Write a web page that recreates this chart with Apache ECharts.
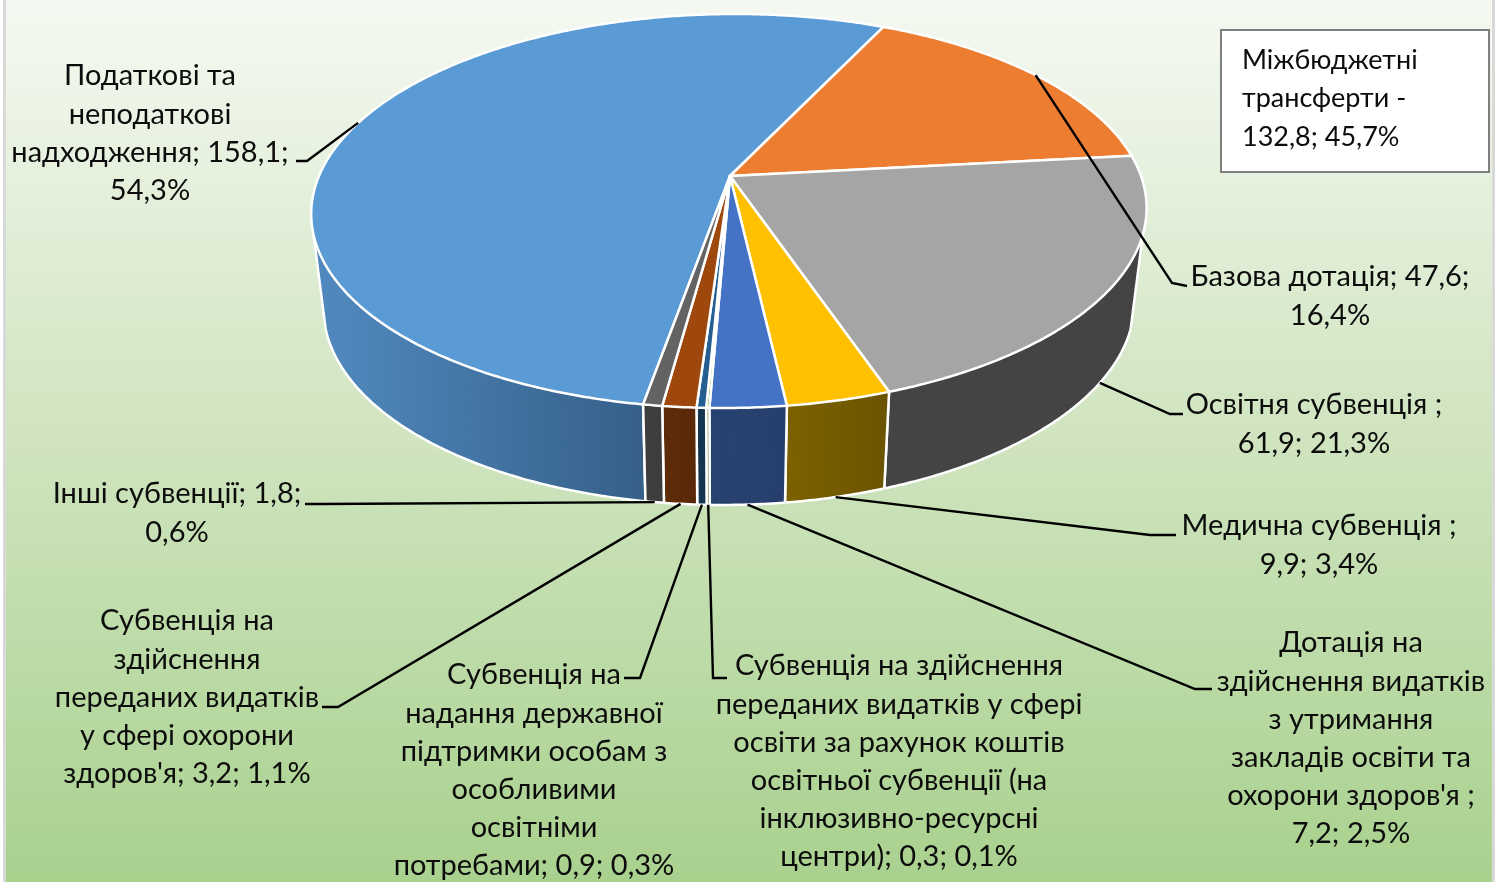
<!DOCTYPE html>
<html>
<head>
<meta charset="utf-8">
<style>
    html, body { margin: 0; padding: 0; background: #fff; }
    #pie_div { width: 1503px; height: 882px; }
</style>
<script src="https://cdn.jsdelivr.net/npm/echarts@6/dist/echarts.min.js"></script>
</head>
<body>
<div id="pie_div"></div>
<script>
// ----------- data - start -----------
var categories = [
    "Податкові та неподаткові надходження",
    "Базова дотація",
    "Освітня субвенція",
    "Медична субвенція",
    "Дотація на здійснення видатків з утримання закладів освіти та охорони здоров'я",
    "Субвенція на здійснення переданих видатків у сфері освіти за рахунок коштів освітньої субвенції (на інклюзивно-ресурсні центри)",
    "Субвенція на надання державної підтримки особам з особливими освітніми потребами",
    "Субвенція на здійснення переданих видатків у сфері охорони здоров'я",
    "Інші субвенції"
]
var values = [158.1, 47.6, 61.9, 9.9, 7.2, 0.3, 0.9, 3.2, 1.8]
var label_texts = [
    "Податкові та\nнеподаткові\nнадходження; 158,1;\n54,3%",
    "Базова дотація; 47,6;\n16,4%",
    "Освітня субвенція ;\n61,9; 21,3%",
    "Медична субвенція ;\n9,9; 3,4%",
    "Дотація на\nздійснення видатків\nз утримання\nзакладів освіти та\nохорони здоров'я ;\n7,2; 2,5%",
    "Субвенція на здійснення\nпереданих видатків у сфері\nосвіти за рахунок коштів\nосвітньої субвенції (на\nінклюзивно-ресурсні\nцентри); 0,3; 0,1%",
    "Субвенція на\nнадання державної\nпідтримки особам з\nособливими\nосвітніми\nпотребами; 0,9; 0,3%",
    "Субвенція на\nздійснення\nпереданих видатків\nу сфері охорони\nздоров'я; 3,2; 1,1%",
    "Інші субвенції; 1,8;\n0,6%"
]
var box_text = "Міжбюджетні\nтрансферти -\n132,8; 45,7%"
// ----------- data - end -----------

// ----------- styles and layout - start -----------
var top_colors = ['#5B9BD5', '#ED7D31', '#A5A5A5', '#FFC000', '#4472C4', '#70AD47', '#255E91', '#9E480E', '#636363']
// side wall colours, left and right end of the wall
var side_colors = [
    ['#5088BE', '#355F88'], ['#8A4A1C', '#8A4A1C'], ['#444444', '#434343'],
    ['#7D6100', '#6B5400'], ['#28426F', '#263E6B'], ['#3F6428', '#3F6428'],
    ['#143650', '#143450'], ['#5E2B08', '#592808'], ['#3E3E3E', '#3C3C3C']
]
// centre of each label's first line
var label_anchor = [
    [150, 76], [1330, 277], [1314, 405], [1319, 526], [1351, 643],
    [899, 666], [534, 675], [187, 621], [177, 494]
]
// bends of the leader lines, the first point comes from the slice
var leader_bends = [
    [[307, 161], [296, 161]],
    [[1172, 283], [1187, 286]],
    [[1170, 414], [1183, 414]],
    [[1150, 535], [1176, 535]],
    [[1195, 689], [1212, 689]],
    [[713, 678], [727, 678]],
    [[640, 678], [624, 678]],
    [[338, 707], [322, 707]],
    [[320, 504], [305, 504]]
]
var label_font = '29px Lato, "Open Sans"'
var box_font = '27px Lato, "Open Sans"'
var line_height = 38.2

// perspective of the disc
var top_face = { x: 730, y: 176, b: 411, a: 190.8 }
var bottom_face = { x: 730, y: 269.4, b: 399, a: 193.7 }
var persp = -0.1777
var skew = -6
var first_angle = 189.2
// where the wall leaves the silhouette of the disc
var wall_from = 107
var wall_to = 253
// ----------- styles and layout - end -----------

var total = values.reduce(function (a, b) { return a + b }, 0)

// start and end angle of a slice, clockwise from the top
function slice_angles(index) {
    var before = 0
    for (var i = 0; i < index; i++) {
        before += values[i]
    }
    var start = first_angle + before / total * 360
    var end = start + values[index] / total * 360
    if (start >= 360) {
        start -= 360
        end -= 360
    }
    return [start, end]
}

function rim_point(face, angle) {
    var rad = angle * Math.PI / 180
    var X = Math.sin(rad)
    var Y = -Math.cos(rad)
    var w = 1 + persp * Y
    return [face.x + (face.b * X + skew * Y) / w, face.y + face.a * Y / w]
}

function arc_points(face, from, to) {
    var points = []
    var steps = Math.max(1, Math.ceil((to - from) / 0.5))
    for (var i = 0; i <= steps; i++) {
        points.push(rim_point(face, from + (to - from) * i / steps))
    }
    return points
}

// ---------------- render ----------------
function render_wall(params, api) {
    var index = api.value(0)
    var angles = slice_angles(index)
    var from = Math.max(angles[0], wall_from)
    var to = Math.min(angles[1], wall_to)
    if (from >= to) {
        return { type: 'group', children: [] }
    }
    var top_arc = arc_points(top_face, from, to)
    var bottom_arc = arc_points(bottom_face, from, to)
    var min_x = Math.min(bottom_arc[0][0], bottom_arc[bottom_arc.length - 1][0])
    var max_x = Math.max(bottom_arc[0][0], bottom_arc[bottom_arc.length - 1][0])
    var fill = new echarts.graphic.LinearGradient(min_x, 0, max_x, 0, [
        { offset: 0, color: side_colors[index][0] },
        { offset: 1, color: side_colors[index][1] }
    ], true)
    var children = []
    for (var i = 0; i < top_arc.length - 1; i++) {
        children.push({
            type: 'polygon',
            shape: { points: [top_arc[i], top_arc[i + 1], bottom_arc[i + 1], bottom_arc[i]] },
            style: { fill: fill, stroke: fill, lineWidth: 1 }
        })
    }
    var edge_style = { fill: 'none', stroke: '#fff', lineWidth: 2.5 }
    children.push({ type: 'polyline', shape: { points: bottom_arc }, style: edge_style })
    children.push({ type: 'polyline', shape: { points: [top_arc[0], bottom_arc[0]] }, style: edge_style })
    children.push({
        type: 'polyline',
        shape: { points: [top_arc[top_arc.length - 1], bottom_arc[bottom_arc.length - 1]] },
        style: edge_style
    })
    return { type: 'group', children: children }
}

function render_top(params, api) {
    var index = api.value(0)
    var angles = slice_angles(index)
    var points = [[top_face.x, top_face.y]].concat(arc_points(top_face, angles[0], angles[1]))
    return {
        type: 'polygon',
        shape: { points: points },
        style: { fill: top_colors[index], stroke: '#fff', lineWidth: 2.5, lineJoin: 'round' }
    }
}

function render_label(params, api) {
    var index = api.value(0)
    var angles = slice_angles(index)
    var mid = (angles[0] + angles[1]) / 2 % 360
    // the front slices are labelled from the lower rim, the back ones from the upper rim
    var face = mid > 90 && mid < 270 ? bottom_face : top_face
    var leader = [rim_point(face, mid)].concat(leader_bends[index])
    return {
        type: 'group',
        children: [{
            type: 'polyline',
            shape: { points: leader },
            style: { fill: 'none', stroke: '#000', lineWidth: 2.4 }
        }, {
            type: 'text',
            style: {
                text: label_texts[index],
                x: label_anchor[index][0],
                y: label_anchor[index][1] - line_height / 2,
                font: label_font,
                lineHeight: line_height,
                fill: '#0c0c0c',
                align: 'center',
                verticalAlign: 'top'
            }
        }]
    }
}

var series_data = values.map(function (value, index) {
    return { name: categories[index], value: [index, value] }
})

function custom_series(render, z) {
    return {
        type: 'custom',
        coordinateSystem: 'none',
        renderItem: render,
        data: series_data,
        silent: true,
        animation: false,
        clip: false,
        z: z
    }
}

var pie_div = echarts.init(document.getElementById('pie_div'))
var option = {
    backgroundColor: '#fff',
    animation: false,
    graphic: [
        {
            type: 'rect', z: -10, silent: true,
            shape: { x: 3, y: 0, width: 1492, height: 882 },
            style: { fill: '#d9d9d9' }
        },
        {
            type: 'rect', z: -9, silent: true,
            shape: { x: 6, y: 0, width: 1486, height: 882 },
            style: {
                fill: new echarts.graphic.LinearGradient(0, 0, 0, 1, [
                    { offset: 0, color: '#F5F9F2' },
                    { offset: 0.5, color: '#CFE4BF' },
                    { offset: 1, color: '#A9D18E' }
                ])
            }
        },
        {
            type: 'rect', z: 20, silent: true,
            shape: { x: 1221, y: 30, width: 268, height: 142 },
            style: { fill: '#fff', stroke: '#7F7F7F', lineWidth: 2 }
        },
        {
            type: 'text', z: 21, silent: true,
            style: {
                text: box_text,
                x: 1242,
                y: 41,
                font: box_font,
                lineHeight: 38.5,
                fill: '#0c0c0c',
                align: 'left',
                verticalAlign: 'top'
            }
        }
    ],
    series: [
        custom_series(render_wall, 2),
        custom_series(render_top, 3),
        custom_series(render_label, 4)
    ]
}
pie_div.setOption(option)
</script>
</body>
</html>
